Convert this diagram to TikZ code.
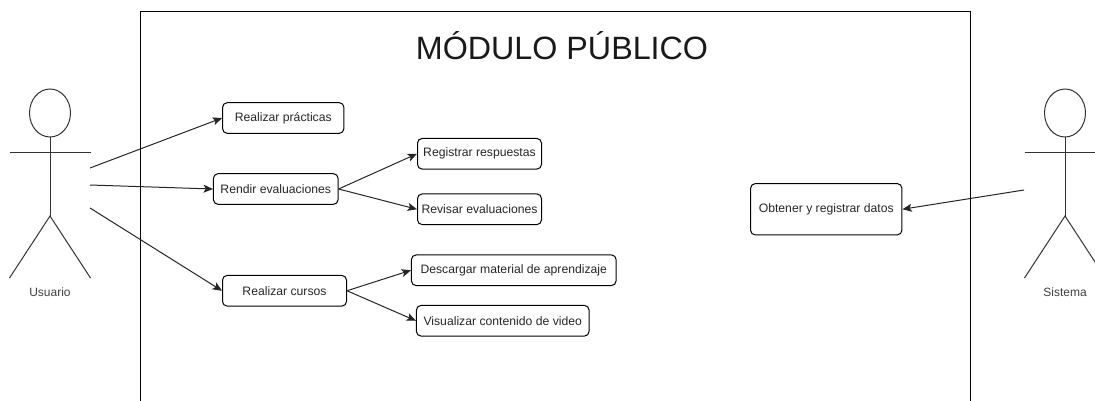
\documentclass[tikz,border=0pt]{standalone}
\usepackage{fontspec}
\setmainfont{Liberation Sans}
\usetikzlibrary{arrows.meta}

\tikzset{
    caso/.style={draw, rounded corners=3.5pt, line width=.75pt, inner sep=0pt, minimum height=23pt, font=\fontsize{9.15}{11}\selectfont, text=black!85},
    flecha/.style={-{Stealth[length=7pt,width=6pt,inset=1.6pt]}, line width=.75pt, black!85},
    actor/.style={inner sep=0pt, font=\fontsize{9}{11}\selectfont, text=black!75}
}

\begin{document}
\begin{tikzpicture}[x=.75pt,y=-.75pt]
\useasboundingbox (0,0) rectangle (1095,400);

% el marco del modulo, abierto por abajo
\draw[line width=.75pt] (140.5,420)--(140.5,11.5)--(970,11.5)--(970,420);
\node[inner sep=0pt, font=\fontsize{24.2}{28}\selectfont, text=black!90] (titulo) at (562,45.5) {MÓDULO PÚBLICO};

% los actores
\foreach \x/\Nombre in {50/Usuario,1065/Sistema}{
    \draw[line width=.75pt, black!80] (\x,113) ellipse (20.5 and 24);
    \draw[line width=.75pt, black!80] (\x,137)--(\x,216);
    \draw[line width=.75pt, black!80] (\x-40.5,152)--(\x+40.5,152);
    \draw[line width=.75pt, black!80] (\x-40.5,278)--(\x,216)--(\x+40.5,278);
    \node[actor] (\Nombre) at (\x,292) {\Nombre};
}

% los casos de uso
\node[caso, minimum width=91pt] (practicas) at (283.25,118) {Realizar prácticas};
\node[caso, minimum width=93.5pt] (rendir) at (275.75,189) {Rendir evaluaciones};
\node[caso, minimum width=93pt] (cursos) at (284.5,290.75) {Realizar cursos};
\node[caso, minimum width=93pt] (registrar) at (479.5,153.75) {Registrar respuestas};
\node[caso, minimum width=93pt] (revisar) at (479.5,209.25) {Revisar evaluaciones};
\node[caso, minimum width=153.5pt] (descargar) at (513.75,270.25) {Descargar material de aprendizaje};
\node[caso, minimum width=129.5pt] (visualizar) at (502.75,320.75) {Visualizar contenido de video};
\node[caso, minimum width=113.5pt, minimum height=38.5pt] (obtener) at (826.25,209.25) {Obtener y registrar datos};

% extremos libres de las flechas
\coordinate (usuarioA) at (90,168);
\coordinate (usuarioB) at (90,185);
\coordinate (usuarioC) at (90,208);
\coordinate (sistemaA) at (1024,190);

\draw[flecha] (usuarioA)--(practicas.west);
\draw[flecha] (usuarioB)--(rendir.west);
\draw[flecha] (usuarioC)--(cursos.west);
\draw[flecha] (rendir.east)--(registrar.west);
\draw[flecha] (rendir.east)--(revisar.west);
\draw[flecha] (cursos.east)--(descargar.west);
\draw[flecha] (cursos.east)--(visualizar.west);
\draw[flecha] (sistemaA)--(obtener.east);

\end{tikzpicture}
\end{document}
